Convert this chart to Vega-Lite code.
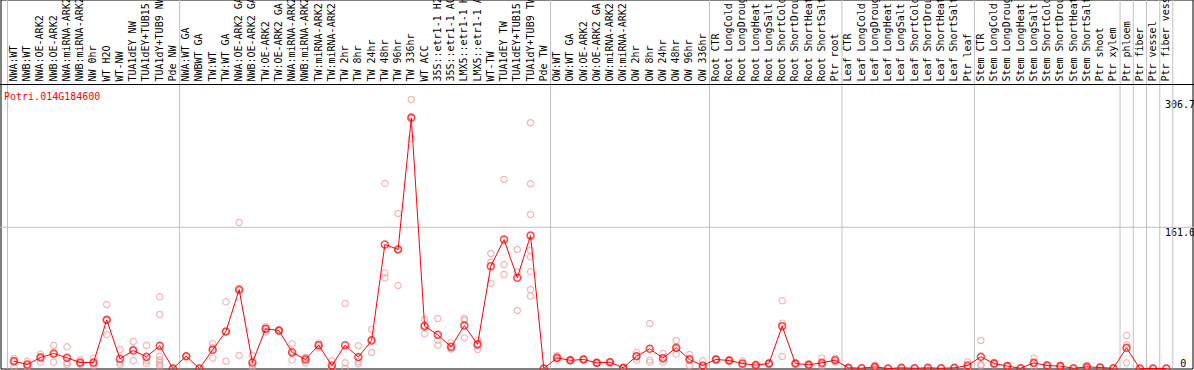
{
  "$schema": "https://vega.github.io/schema/vega-lite/v6.json",
  "background": "white",
  "autosize": {"type": "none"},
  "padding": {"left": 0.5, "top": -0.5, "right": 1, "bottom": 1},
  "width": 1192,
  "height": 369,
  "view": {"stroke": "black", "strokeWidth": 1},
  "data": {"values": [
      {"i":1,"c":"NWA:WT","v":8.3},{"i":2,"c":"NWB:WT","v":4.6},{"i":3,"c":"NWA:OE-ARK2","v":12.5},{"i":4,"c":"NWB:OE-ARK2","v":17.1},
      {"i":5,"c":"NWA:miRNA-ARK2","v":12.2},{"i":6,"c":"NWB:miRNA-ARK2","v":6.8},{"i":7,"c":"NW 0hr","v":6.8},{"i":8,"c":"WT H2O","v":55.5},
      {"i":9,"c":"WT-NW","v":11},{"i":10,"c":"TUA1dEY NW","v":20.5},{"i":11,"c":"TUA1dEY+TUB15 NW","v":13.3},{"i":12,"c":"TUA1dY+TUB9 NW","v":25.8},
      {"i":13,"c":"Pde NW","v":0},{"i":14,"c":"NWA:WT GA","v":14},{"i":15,"c":"NWBWT GA","v":0},{"i":16,"c":"TW:WT","v":21.3},
      {"i":17,"c":"TW:WT GA","v":42.2},{"i":18,"c":"NWA:OE-ARK2 GA","v":90},{"i":19,"c":"NWB:OE-ARK2 GA","v":6.8},{"i":20,"c":"TW:OE-ARK2","v":45.2},
      {"i":21,"c":"TW:OE-ARK2 GA","v":43.3},{"i":22,"c":"NWA:miRNA-ARK2 GA","v":18.6},{"i":23,"c":"NWB:miRNA-ARK2 GA","v":10.3},{"i":24,"c":"TW:miRNA-ARK2","v":26.6},
      {"i":25,"c":"TW:miRNA-ARK2 GA","v":3.4},{"i":26,"c":"TW 2hr","v":26.6},{"i":27,"c":"TW 8hr","v":13},{"i":28,"c":"TW 24hr","v":31.9},
      {"i":29,"c":"TW 48hr","v":141.4},{"i":30,"c":"TW 96hr","v":135.7},{"i":31,"c":"TW 336hr","v":285.8},{"i":32,"c":"WT ACC","v":48.3},
      {"i":33,"c":"35S::etr1-1 H2O","v":38.4},{"i":34,"c":"35S::etr1-1 ACC","v":24.7},{"i":35,"c":"LMX5::etr1-1 H2O","v":49},{"i":36,"c":"LMX5::etr1-1 ACC","v":27.4},
      {"i":37,"c":"WT-TW","v":116.7},{"i":38,"c":"TUA1dEY TW","v":147},{"i":39,"c":"TUA1dEY+TUB15 TW","v":103.4},{"i":40,"c":"TUA1dY+TUB9 TW","v":151.7},
      {"i":41,"c":"Pde TW","v":0},{"i":42,"c":"OW:WT","v":12.2},{"i":43,"c":"OW:WT GA","v":9.3},{"i":44,"c":"OW:OE-ARK2","v":10.3},
      {"i":45,"c":"OW:OE-ARK2 GA","v":6.5},{"i":46,"c":"OW:miRNA-ARK2","v":7.2},{"i":47,"c":"OW:miRNA-ARK2 GA","v":0.8},{"i":48,"c":"OW 2hr","v":14},
      {"i":49,"c":"OW 8hr","v":22.4},{"i":50,"c":"OW 24hr","v":11.8},{"i":51,"c":"OW 48hr","v":23.6},{"i":52,"c":"OW 96hr","v":10.3},
      {"i":53,"c":"OW 336hr","v":3.4},{"i":54,"c":"Root CTR","v":10.3},{"i":55,"c":"Root LongCold","v":9.1},{"i":56,"c":"Root LongDrought","v":5.7},
      {"i":57,"c":"Root LongHeat","v":3.8},{"i":58,"c":"Root LongSalt","v":5.7},{"i":59,"c":"Root ShortCold","v":48.3},{"i":60,"c":"Root ShortDrought","v":5.7},
      {"i":61,"c":"Root ShortHeat","v":4.2},{"i":62,"c":"Root ShortSalt","v":6.5},{"i":63,"c":"Ptr root","v":9.5},{"i":64,"c":"Leaf CTR","v":0.8},
      {"i":65,"c":"Leaf LongCold","v":0.4},{"i":66,"c":"Leaf LongDrought","v":1.9},{"i":67,"c":"Leaf LongHeat","v":0},{"i":68,"c":"Leaf LongSalt","v":0.8},
      {"i":69,"c":"Leaf ShortCold","v":0.3},{"i":70,"c":"Leaf ShortDrought","v":0.8},{"i":71,"c":"Leaf ShortHeat","v":0.3},{"i":72,"c":"Leaf ShortSalt","v":0.8},
      {"i":73,"c":"Ptr leaf","v":3.4},{"i":74,"c":"Stem CTR","v":13.3},{"i":75,"c":"Stem LongCold","v":5.7},{"i":76,"c":"Stem LongDrought","v":2.7},
      {"i":77,"c":"Stem LongHeat","v":0.3},{"i":78,"c":"Stem LongSalt","v":6.5},{"i":79,"c":"Stem ShortCold","v":3.4},{"i":80,"c":"Stem ShortDrought","v":2.7},
      {"i":81,"c":"Stem ShortHeat","v":0.3},{"i":82,"c":"Stem ShortSalt","v":1.9},{"i":83,"c":"Ptr shoot","v":1.1},{"i":84,"c":"Ptr xylem","v":0.3},
      {"i":85,"c":"Ptr phloem","v":23.6},{"i":86,"c":"Ptr fiber","v":0},{"i":87,"c":"Ptr vessel","v":0},{"i":88,"c":"Ptr fiber vessel","v":0}
  ]},
  "layer": [
    {
      "data": {"values": [
        {"c":"NWA:WT"},{"c":"NWA:WT GA"},{"c":"OW:WT"},{"c":"Root CTR"},{"c":"Leaf CTR"},{"c":"Stem CTR"},
        {"c":"Ptr phloem"},{"c":"Ptr fiber"},{"c":"Ptr vessel"},{"c":"Ptr fiber vessel"}
      ]},
      "mark": {"type": "rule", "color": "#c0c0c0", "strokeWidth": 1, "xOffset": -6.5},
      "encoding": {
        "x": {"field": "c", "type": "nominal", "axis": null},
        "y": {"datum": 0, "type": "quantitative"},
        "y2": {"datum": 420.75}
      }
    },
    {
      "data": {"values": [{"c":"Ptr fiber vessel"}]},
      "mark": {"type": "rule", "color": "#c0c0c0", "strokeWidth": 1, "xOffset": 6.5},
      "encoding": {
        "x": {"field": "c", "type": "nominal", "axis": null},
        "y": {"datum": 0, "type": "quantitative"},
        "y2": {"datum": 420.75}
      }
    },
    {
      "data": {"values": [{"a":"NWA:WT","b":"Ptr fiber vessel"}]},
      "mark": {"type": "rule", "color": "#c0c0c0", "strokeWidth": 1, "xOffset": -19, "x2Offset": 43},
      "encoding": {
        "x": {"field": "a", "type": "nominal", "axis": null},
        "x2": {"field": "b"},
        "y": {"datum": 161, "type": "quantitative"}
      }
    },
    {
      "data": {"values": [{"a":"NWA:WT","b":"Ptr fiber vessel"}]},
      "mark": {"type": "rule", "color": "black", "strokeWidth": 1, "xOffset": -19, "x2Offset": 43},
      "encoding": {
        "x": {"field": "a", "type": "nominal", "axis": null},
        "x2": {"field": "b"},
        "y": {"datum": 323.8, "type": "quantitative"}
      }
    },
    {
      "mark": {"type": "text", "angle": 270, "align": "left", "baseline": "middle", "font": "DejaVu Sans Mono", "fontSize": 10, "color": "black"},
      "encoding": {
        "x": {"field": "c", "type": "nominal", "axis": null},
        "y": {"datum": 327.2, "type": "quantitative"},
        "text": {"field": "c", "type": "nominal"}
      }
    },
    {
      "data": {"values": [
        {"c":"NWA:WT","v":11.4},{"c":"NWA:WT","v":9},{"c":"NWA:WT","v":2},
        {"c":"NWB:WT","v":8.3},{"c":"NWB:WT","v":3.5},{"c":"NWB:WT","v":2},
        {"c":"NWA:OE-ARK2","v":16.3},{"c":"NWA:OE-ARK2","v":13.5},{"c":"NWA:OE-ARK2","v":7.2},
        {"c":"NWB:OE-ARK2","v":26.2},{"c":"NWB:OE-ARK2","v":16},{"c":"NWB:OE-ARK2","v":7.2},
        {"c":"NWA:miRNA-ARK2","v":24.7},{"c":"NWA:miRNA-ARK2","v":6.5},{"c":"NWA:miRNA-ARK2","v":4.6},
        {"c":"NWB:miRNA-ARK2","v":10},{"c":"NWB:miRNA-ARK2","v":6},{"c":"NWB:miRNA-ARK2","v":4.6},
        {"c":"NW 0hr","v":11.8},{"c":"NW 0hr","v":5.5},{"c":"NW 0hr","v":3},
        {"c":"WT H2O","v":73},{"c":"WT H2O","v":55},{"c":"WT H2O","v":38.8},
        {"c":"WT-NW","v":21.7},{"c":"WT-NW","v":7},{"c":"WT-NW","v":4.6},
        {"c":"TUA1dEY NW","v":30.8},{"c":"TUA1dEY NW","v":22},{"c":"TUA1dEY NW","v":8.7},
        {"c":"TUA1dEY+TUB15 NW","v":26.2},{"c":"TUA1dEY+TUB15 NW","v":8.5},{"c":"TUA1dEY+TUB15 NW","v":5.5},
        {"c":"TUA1dY+TUB9 NW","v":81.7},{"c":"TUA1dY+TUB9 NW","v":61.6},{"c":"TUA1dY+TUB9 NW","v":14},{"c":"TUA1dY+TUB9 NW","v":10},{"c":"TUA1dY+TUB9 NW","v":7},{"c":"TUA1dY+TUB9 NW","v":4.6},{"c":"TUA1dY+TUB9 NW","v":2},
        {"c":"Pde NW","v":0},
        {"c":"NWA:WT GA","v":14},
        {"c":"NWBWT GA","v":0},
        {"c":"TW:WT","v":28.1},{"c":"TW:WT","v":24},{"c":"TW:WT","v":11.8},
        {"c":"TW:WT GA","v":76},{"c":"TW:WT GA","v":42},{"c":"TW:WT GA","v":8.3},
        {"c":"NWA:OE-ARK2 GA","v":166.5},{"c":"NWA:OE-ARK2 GA","v":88.7},{"c":"NWA:OE-ARK2 GA","v":14.8},
        {"c":"NWB:OE-ARK2 GA","v":14.8},{"c":"NWB:OE-ARK2 GA","v":4},{"c":"NWB:OE-ARK2 GA","v":1.6},
        {"c":"TW:OE-ARK2","v":48},{"c":"TW:OE-ARK2","v":45.5},{"c":"TW:OE-ARK2","v":42},
        {"c":"TW:OE-ARK2 GA","v":44},{"c":"TW:OE-ARK2 GA","v":43.3},{"c":"TW:OE-ARK2 GA","v":42.6},
        {"c":"NWA:miRNA-ARK2 GA","v":28.3},{"c":"NWA:miRNA-ARK2 GA","v":17.5},{"c":"NWA:miRNA-ARK2 GA","v":9.9},
        {"c":"NWB:miRNA-ARK2 GA","v":12.5},{"c":"NWB:miRNA-ARK2 GA","v":12},{"c":"NWB:miRNA-ARK2 GA","v":6.5},
        {"c":"TW:miRNA-ARK2","v":29.2},{"c":"TW:miRNA-ARK2","v":27},{"c":"TW:miRNA-ARK2","v":23.6},
        {"c":"TW:miRNA-ARK2 GA","v":8.7},{"c":"TW:miRNA-ARK2 GA","v":1.5},{"c":"TW:miRNA-ARK2 GA","v":0},
        {"c":"TW 2hr","v":74.1},{"c":"TW 2hr","v":6.5},{"c":"TW 2hr","v":0},
        {"c":"TW 8hr","v":25.9},{"c":"TW 8hr","v":8},{"c":"TW 8hr","v":5.3},
        {"c":"TW 24hr","v":44.5},{"c":"TW 24hr","v":33},{"c":"TW 24hr","v":18.2},
        {"c":"TW 48hr","v":211},{"c":"TW 48hr","v":109},{"c":"TW 48hr","v":103.4},
        {"c":"TW 96hr","v":176.7},{"c":"TW 96hr","v":136},{"c":"TW 96hr","v":94.6},
        {"c":"TW 336hr","v":306.7},{"c":"TW 336hr","v":287},{"c":"TW 336hr","v":261.9},
        {"c":"WT ACC","v":55.8},{"c":"WT ACC","v":49.5},{"c":"WT ACC","v":39.5},
        {"c":"35S::etr1-1 H2O","v":57},{"c":"35S::etr1-1 H2O","v":32.3},{"c":"35S::etr1-1 H2O","v":26.6},
        {"c":"35S::etr1-1 ACC","v":29.2},{"c":"35S::etr1-1 ACC","v":22.4},{"c":"35S::etr1-1 ACC","v":22.4},
        {"c":"LMX5::etr1-1 H2O","v":57},{"c":"LMX5::etr1-1 H2O","v":55},{"c":"LMX5::etr1-1 H2O","v":34.9},
        {"c":"LMX5::etr1-1 ACC","v":32.3},{"c":"LMX5::etr1-1 ACC","v":28.2},{"c":"LMX5::etr1-1 ACC","v":21.7},
        {"c":"WT-TW","v":131.1},{"c":"WT-TW","v":121.2},{"c":"WT-TW","v":96.9},
        {"c":"TUA1dEY TW","v":215.5},{"c":"TUA1dEY TW","v":118.6},{"c":"TUA1dEY TW","v":107.2},
        {"c":"TUA1dEY+TUB15 TW","v":135.7},{"c":"TUA1dEY+TUB15 TW","v":110},{"c":"TUA1dEY+TUB15 TW","v":66.1},
        {"c":"TUA1dY+TUB9 TW","v":280.2},{"c":"TUA1dY+TUB9 TW","v":210.6},{"c":"TUA1dY+TUB9 TW","v":175.6},{"c":"TUA1dY+TUB9 TW","v":134.9},{"c":"TUA1dY+TUB9 TW","v":127.3},{"c":"TUA1dY+TUB9 TW","v":110.2},{"c":"TUA1dY+TUB9 TW","v":90},{"c":"TUA1dY+TUB9 TW","v":82.5},
        {"c":"Pde TW","v":0},
        {"c":"OW:WT","v":14.8},{"c":"OW:WT","v":12},{"c":"OW:WT","v":9.8},
        {"c":"OW:WT GA","v":10},{"c":"OW:WT GA","v":9.3},{"c":"OW:WT GA","v":8.6},
        {"c":"OW:OE-ARK2","v":11},{"c":"OW:OE-ARK2","v":10.3},{"c":"OW:OE-ARK2","v":9.6},
        {"c":"OW:OE-ARK2 GA","v":7},{"c":"OW:OE-ARK2 GA","v":6.5},{"c":"OW:OE-ARK2 GA","v":6},
        {"c":"OW:miRNA-ARK2","v":8},{"c":"OW:miRNA-ARK2","v":7.2},{"c":"OW:miRNA-ARK2","v":6.4},
        {"c":"OW:miRNA-ARK2 GA","v":1.2},{"c":"OW:miRNA-ARK2 GA","v":0.8},{"c":"OW:miRNA-ARK2 GA","v":0.4},
        {"c":"OW 2hr","v":18.6},{"c":"OW 2hr","v":14},{"c":"OW 2hr","v":9.5},
        {"c":"OW 8hr","v":51.3},{"c":"OW 8hr","v":9.5},{"c":"OW 8hr","v":7.2},
        {"c":"OW 24hr","v":17.1},{"c":"OW 24hr","v":11},{"c":"OW 24hr","v":7.2},
        {"c":"OW 48hr","v":31.9},{"c":"OW 48hr","v":22.6},{"c":"OW 48hr","v":16.3},
        {"c":"OW 96hr","v":15.9},{"c":"OW 96hr","v":11.6},{"c":"OW 96hr","v":3.4},
        {"c":"OW 336hr","v":8.7},{"c":"OW 336hr","v":1.5},{"c":"OW 336hr","v":0},
        {"c":"Root CTR","v":11},{"c":"Root CTR","v":10.3},{"c":"Root CTR","v":9.6},
        {"c":"Root LongCold","v":10},{"c":"Root LongCold","v":9.1},{"c":"Root LongCold","v":8.2},
        {"c":"Root LongDrought","v":8.7},{"c":"Root LongDrought","v":5},{"c":"Root LongDrought","v":3.4},
        {"c":"Root LongHeat","v":5},{"c":"Root LongHeat","v":3.8},{"c":"Root LongHeat","v":2.6},
        {"c":"Root LongSalt","v":6.5},{"c":"Root LongSalt","v":5.7},{"c":"Root LongSalt","v":4.9},
        {"c":"Root ShortCold","v":77.2},{"c":"Root ShortCold","v":51.7},{"c":"Root ShortCold","v":13.7},
        {"c":"Root ShortDrought","v":6.5},{"c":"Root ShortDrought","v":5.7},{"c":"Root ShortDrought","v":4.9},
        {"c":"Root ShortHeat","v":5},{"c":"Root ShortHeat","v":4.2},{"c":"Root ShortHeat","v":3.4},
        {"c":"Root ShortSalt","v":11.8},{"c":"Root ShortSalt","v":5},{"c":"Root ShortSalt","v":2.7},
        {"c":"Ptr root","v":11.8},{"c":"Ptr root","v":9.5},{"c":"Ptr root","v":7.2},
        {"c":"Leaf CTR","v":1.2},{"c":"Leaf CTR","v":0.4},
        {"c":"Leaf LongCold","v":0.4},
        {"c":"Leaf LongDrought","v":3.4},{"c":"Leaf LongDrought","v":1.5},{"c":"Leaf LongDrought","v":0.8},
        {"c":"Leaf LongHeat","v":0},
        {"c":"Leaf LongSalt","v":0.8},
        {"c":"Leaf ShortCold","v":0.3},
        {"c":"Leaf ShortDrought","v":0.8},
        {"c":"Leaf ShortHeat","v":0.3},
        {"c":"Leaf ShortSalt","v":0.8},
        {"c":"Ptr leaf","v":7.6},{"c":"Ptr leaf","v":2},{"c":"Ptr leaf","v":0.6},
        {"c":"Stem CTR","v":31.9},{"c":"Stem CTR","v":4.6},{"c":"Stem CTR","v":3.4},
        {"c":"Stem LongCold","v":7.2},{"c":"Stem LongCold","v":5.7},{"c":"Stem LongCold","v":4.2},
        {"c":"Stem LongDrought","v":3.4},{"c":"Stem LongDrought","v":2},
        {"c":"Stem LongHeat","v":0.3},
        {"c":"Stem LongSalt","v":11.8},{"c":"Stem LongSalt","v":6},{"c":"Stem LongSalt","v":1.9},
        {"c":"Stem ShortCold","v":4.5},{"c":"Stem ShortCold","v":2.3},
        {"c":"Stem ShortDrought","v":3.4},{"c":"Stem ShortDrought","v":2},
        {"c":"Stem ShortHeat","v":0.3},
        {"c":"Stem ShortSalt","v":3.8},{"c":"Stem ShortSalt","v":1.2},{"c":"Stem ShortSalt","v":0.7},
        {"c":"Ptr shoot","v":1.5},{"c":"Ptr shoot","v":0.7},
        {"c":"Ptr xylem","v":0.3},
        {"c":"Ptr phloem","v":37.6},{"c":"Ptr phloem","v":27},{"c":"Ptr phloem","v":6.5},
        {"c":"Ptr fiber","v":0},
        {"c":"Ptr vessel","v":0},
        {"c":"Ptr fiber vessel","v":0}
      ]},
      "mark": {"type": "point", "shape": "circle", "filled": false, "size": 40, "stroke": "#f09a9a", "strokeWidth": 1.2},
      "encoding": {
        "x": {"field": "c", "type": "nominal", "axis": null},
        "y": {"field": "v", "type": "quantitative"}
      }
    },
    {
      "mark": {"type": "line", "color": "#ff0000", "strokeWidth": 1},
      "encoding": {
        "x": {"field": "c", "type": "nominal", "axis": null},
        "y": {"field": "v", "type": "quantitative"},
        "order": {"field": "i", "type": "quantitative"}
      }
    },
    {
      "mark": {"type": "point", "shape": "circle", "filled": false, "size": 48, "stroke": "#ff0000", "strokeWidth": 1.6},
      "encoding": {
        "x": {"field": "c", "type": "nominal", "axis": null,
              "scale": {"domain": ["NWA:WT","NWB:WT","NWA:OE-ARK2","NWB:OE-ARK2","NWA:miRNA-ARK2","NWB:miRNA-ARK2","NW 0hr","WT H2O","WT-NW","TUA1dEY NW","TUA1dEY+TUB15 NW","TUA1dY+TUB9 NW","Pde NW","NWA:WT GA","NWBWT GA","TW:WT","TW:WT GA","NWA:OE-ARK2 GA","NWB:OE-ARK2 GA","TW:OE-ARK2","TW:OE-ARK2 GA","NWA:miRNA-ARK2 GA","NWB:miRNA-ARK2 GA","TW:miRNA-ARK2","TW:miRNA-ARK2 GA","TW 2hr","TW 8hr","TW 24hr","TW 48hr","TW 96hr","TW 336hr","WT ACC","35S::etr1-1 H2O","35S::etr1-1 ACC","LMX5::etr1-1 H2O","LMX5::etr1-1 ACC","WT-TW","TUA1dEY TW","TUA1dEY+TUB15 TW","TUA1dY+TUB9 TW","Pde TW","OW:WT","OW:WT GA","OW:OE-ARK2","OW:OE-ARK2 GA","OW:miRNA-ARK2","OW:miRNA-ARK2 GA","OW 2hr","OW 8hr","OW 24hr","OW 48hr","OW 96hr","OW 336hr","Root CTR","Root LongCold","Root LongDrought","Root LongHeat","Root LongSalt","Root ShortCold","Root ShortDrought","Root ShortHeat","Root ShortSalt","Ptr root","Leaf CTR","Leaf LongCold","Leaf LongDrought","Leaf LongHeat","Leaf LongSalt","Leaf ShortCold","Leaf ShortDrought","Leaf ShortHeat","Leaf ShortSalt","Ptr leaf","Stem CTR","Stem LongCold","Stem LongDrought","Stem LongHeat","Stem LongSalt","Stem ShortCold","Stem ShortDrought","Stem ShortHeat","Stem ShortSalt","Ptr shoot","Ptr xylem","Ptr phloem","Ptr fiber","Ptr vessel","Ptr fiber vessel"],
                        "paddingInner": 0, "paddingOuter": 1.846, "align": 0.26}},
        "y": {"field": "v", "type": "quantitative",
              "scale": {"domain": [0, 420.75], "nice": false, "zero": false},
              "axis": {"orient": "right", "offset": -29, "values": [161, 306.7], "format": ".1f",
                       "ticks": false, "domain": false, "grid": false, "title": null,
                       "labelFont": "DejaVu Sans Mono", "labelFontSize": 10, "labelColor": "black",
                       "labelPadding": 1, "labelAlign": "left", "labelOverlap": false, "labelFlush": false,
                       "labelBaseline": "top"}}
      }
    },
    {
      "data": {"values": [{"t":"0","c":"Ptr fiber vessel"}]},
      "mark": {"type": "text", "align": "left", "baseline": "bottom", "dx": 14, "font": "DejaVu Sans Mono", "fontSize": 10, "color": "black"},
      "encoding": {
        "x": {"field": "c", "type": "nominal", "axis": null},
        "y": {"datum": 0, "type": "quantitative"},
        "text": {"field": "t", "type": "nominal"}
      }
    },
    {
      "data": {"values": [{"name":"Potri.014G184600","c":"NWA:WT"}]},
      "mark": {"type": "text", "align": "left", "baseline": "middle", "dx": -10, "font": "DejaVu Sans Mono", "fontSize": 10, "color": "#ff0000"},
      "encoding": {
        "x": {"field": "c", "type": "nominal", "axis": null},
        "y": {"datum": 310, "type": "quantitative"},
        "text": {"field": "name", "type": "nominal"}
      }
    }
  ]
}
